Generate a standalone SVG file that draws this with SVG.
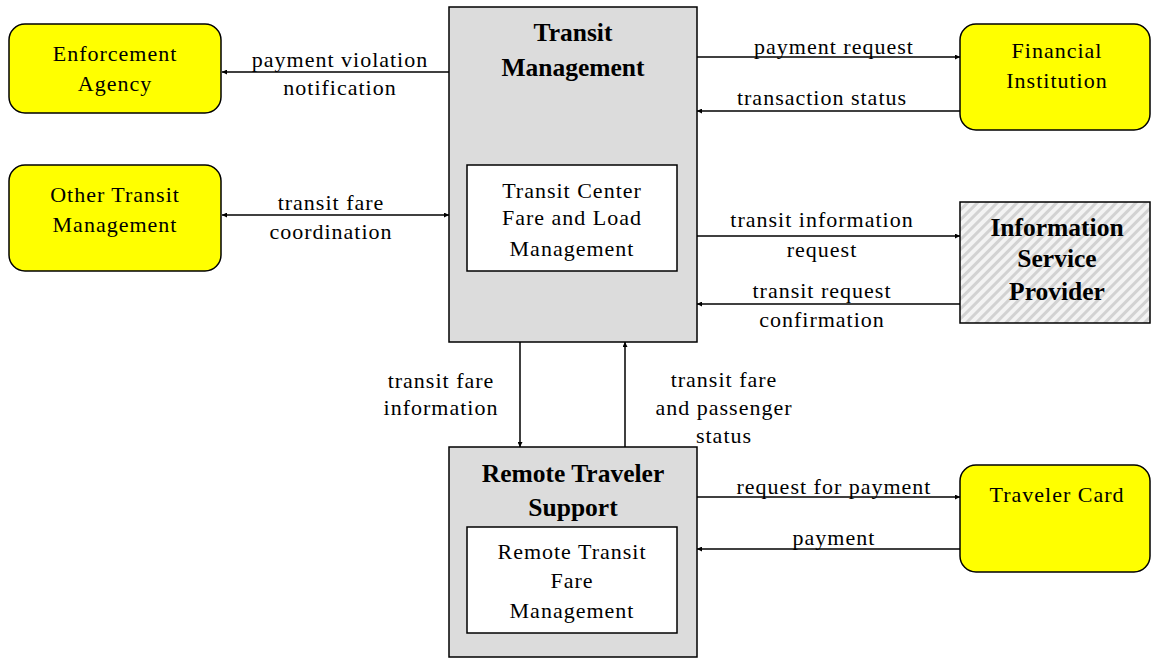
<svg xmlns="http://www.w3.org/2000/svg" width="1151" height="660" viewBox="0 0 1151 660">
<style>
.ext{fill:#ffff00;stroke:#000;stroke-width:1.5}
.sys{fill:#dcdcdc;stroke:#000;stroke-width:1.5}
.inner{fill:#fff;stroke:#000;stroke-width:1.5}
.hatch{fill:url(#hp);stroke:#000;stroke-width:1.5}
text{font-family:"Liberation Serif","Times New Roman",serif;font-size:22px;letter-spacing:1px;fill:#000;text-anchor:middle}
.b{font-weight:bold;font-size:25.5px;letter-spacing:0}
.c{stroke:#000;stroke-width:1.5;fill:none}
</style>
<defs>
<marker id="ah" viewBox="0 0 10 10" refX="10" refY="5" markerWidth="5" markerHeight="5" orient="auto-start-reverse" markerUnits="userSpaceOnUse">
<path d="M0,0 L10,5 L0,10 z" fill="#000"/>
</marker>
<pattern id="hp" patternUnits="userSpaceOnUse" width="7" height="7" patternTransform="rotate(45)">
<rect width="7" height="7" fill="#f3f3f3"/>
<rect width="3" height="7" fill="#d2d2d2"/>
</pattern>
</defs>
<g id="connectors">
<line class="c" x1="449" y1="72" x2="222" y2="72" marker-end="url(#ah)"/>
<line class="c" x1="222" y1="215" x2="449" y2="215" marker-start="url(#ah)" marker-end="url(#ah)"/>
<line class="c" x1="697" y1="57" x2="960" y2="57" marker-end="url(#ah)"/>
<line class="c" x1="960" y1="111" x2="697" y2="111" marker-end="url(#ah)"/>
<line class="c" x1="697" y1="236" x2="960" y2="236" marker-end="url(#ah)"/>
<line class="c" x1="960" y1="304" x2="697" y2="304" marker-end="url(#ah)"/>
<line class="c" x1="520" y1="342" x2="520" y2="447" marker-end="url(#ah)"/>
<line class="c" x1="625" y1="447" x2="625" y2="342" marker-end="url(#ah)"/>
<line class="c" x1="697" y1="497" x2="960" y2="497" marker-end="url(#ah)"/>
<line class="c" x1="960" y1="549" x2="697" y2="549" marker-end="url(#ah)"/>
<text x="340" y="67">payment violation</text>
<text x="340" y="95">notification</text>
<text x="331" y="210">transit fare</text>
<text x="331" y="239">coordination</text>
<text x="834" y="54">payment request</text>
<text x="822" y="105">transaction status</text>
<text x="822" y="227">transit information</text>
<text x="822" y="257">request</text>
<text x="822" y="298">transit request</text>
<text x="822" y="327">confirmation</text>
<text x="441" y="388">transit fare</text>
<text x="441" y="415">information</text>
<text x="724" y="387">transit fare</text>
<text x="724" y="415">and passenger</text>
<text x="724" y="443">status</text>
<text x="834" y="494">request for payment</text>
<text x="834" y="545">payment</text>
</g>
<g id="transit-management">
<rect class="sys" x="449" y="7" width="248" height="335"/>
<text class="b" x="573" y="41">Transit</text>
<text class="b" x="573" y="76">Management</text>
<rect class="inner" x="467" y="165" width="210" height="106"/>
<text x="572" y="198">Transit Center</text>
<text x="572" y="225">Fare and Load</text>
<text x="572" y="256">Management</text>
</g>
<g id="remote-traveler-support">
<rect class="sys" x="449" y="447" width="248" height="210"/>
<text class="b" x="573" y="482">Remote Traveler</text>
<text class="b" x="573" y="516">Support</text>
<rect class="inner" x="467" y="527" width="210" height="106"/>
<text x="572" y="559">Remote Transit</text>
<text x="572" y="588">Fare</text>
<text x="572" y="618">Management</text>
</g>
<g id="enforcement-agency">
<rect class="ext" x="9" y="24" width="212" height="89" rx="16"/>
<text x="115" y="61">Enforcement</text>
<text x="115" y="91">Agency</text>
</g>
<g id="other-transit-management">
<rect class="ext" x="9" y="165" width="212" height="106" rx="16"/>
<text x="115" y="202">Other Transit</text>
<text x="115" y="232">Management</text>
</g>
<g id="financial-institution">
<rect class="ext" x="960" y="24" width="190" height="106" rx="16"/>
<text x="1057" y="58">Financial</text>
<text x="1057" y="88">Institution</text>
</g>
<g id="information-service-provider">
<rect class="hatch" x="960" y="202" width="190" height="121"/>
<text class="b" x="1057" y="236">Information</text>
<text class="b" x="1057" y="267">Service</text>
<text class="b" x="1057" y="300">Provider</text>
</g>
<g id="traveler-card">
<rect class="ext" x="960" y="465" width="190" height="107" rx="16"/>
<text x="1057" y="502">Traveler Card</text>
</g>
</svg>
